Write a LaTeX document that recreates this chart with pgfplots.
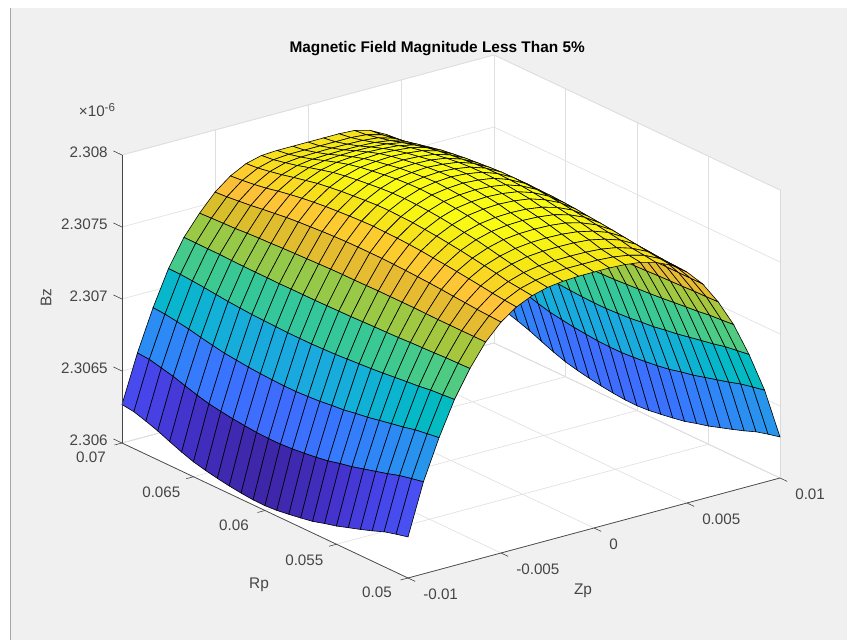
\documentclass[border=0pt]{standalone}
\usepackage{pgfplots}
\usepackage{fontspec}
\setmainfont{Liberation Sans}
\pgfplotsset{compat=1.18}
\definecolor{figbg}{gray}{0.94}
\definecolor{tickc}{gray}{0.27}
\pgfplotsset{colormap={parula}{rgb=(0.2422,0.1504,0.6603) rgb=(0.2647,0.1978,0.7952) rgb=(0.2783,0.2559,0.8991) rgb=(0.2810,0.3228,0.9579) rgb=(0.2699,0.3892,0.9906) rgb=(0.2206,0.4603,0.9973) rgb=(0.1786,0.5289,0.9682) rgb=(0.1540,0.5902,0.9218) rgb=(0.1248,0.6459,0.8883) rgb=(0.0689,0.6948,0.8394) rgb=(0.0067,0.7312,0.7660) rgb=(0.1408,0.7584,0.6842) rgb=(0.2161,0.7843,0.5923) rgb=(0.3406,0.8008,0.4789) rgb=(0.5044,0.7993,0.3480) rgb=(0.6720,0.7793,0.2227) rgb=(0.8203,0.7498,0.1535) rgb=(0.9393,0.7288,0.2100) rgb=(0.9970,0.7659,0.2199) rgb=(0.9786,0.8352,0.1428) rgb=(0.9597,0.9135,0.0805) rgb=(0.9769,0.9839,0.0805)}}
\begin{document}
\begin{tikzpicture}
\begin{scope}[x=0.5pt,y=-0.5pt]
\fill[white] (0,0) rectangle (847,640);
\fill[figbg] (11,8) rectangle (847,640);
\draw[gray!70,line width=0.5pt] (10.5,8)--(10.5,640);
\fill[white] (122,155)--(494,55)--(780,190)--(780,478)--(408,578)--(122,443)--cycle;
\node[text=tickc,font=\fontsize{7.6}{8}\selectfont] at (97,110) {×10\raisebox{2.6pt}{\fontsize{5.8}{6}\selectfont -6}};
\end{scope}
\begin{axis}[at={(61pt,-289pt)},anchor=south west,
 x={(9300pt,2500pt)},y={(-7150pt,3375pt)},z={(0pt,72pt)},
 xmin=-0.01,xmax=0.01,ymin=0.05,ymax=0.07,zmin=2306,zmax=2308,
 clip=false,grid=major,grid style={gray!25,line width=0.3pt},
 axis line style={gray!30,line width=0.3pt},3d box=background,
 scaled x ticks=false,scaled y ticks=false,scaled z ticks=false,
 xtick pos=lower,ytick pos=lower,ztick pos=right,zticklabel pos=left,
 tick align=outside,major tick length=4pt,tick style={tickc,line width=0.3pt},
 x tick style={draw=none},y tick style={draw=none},z tick style={draw=none},
 xtick={-0.01,-0.005,0,0.005,0.01},xticklabels={-0.01,-0.005,0,0.005,0.01},
 ytick={0.05,0.055,0.06,0.065,0.07},yticklabels={0.05,0.055,0.06,0.065,0.07},
 ztick={2306,2306.5,2307,2307.5,2308},zticklabels={2.306,2.3065,2.307,2.3075,2.308},
 ticklabel style={font=\fontsize{7.6}{8}\selectfont,text=tickc},
 xticklabel style={anchor=west,xshift=0.5pt,yshift=-6.5pt},
 yticklabel style={xshift=-5.25pt,yshift=2.25pt},
 zticklabel style={xshift=0pt,yshift=-1.5pt},
 title={\textbf{Magnetic Field Magnitude Less Than 5\%}},
 title style={at={(axis description cs:0.479,0.990)},anchor=center,font=\fontsize{7.7}{9}\selectfont},
 xlabel={Zp},ylabel={Rp},zlabel={Bz},
 xlabel style={at={(axis description cs:0.7006,-0.0249)},anchor=center,font=\fontsize{7.7}{9}\selectfont,text=tickc},
 ylabel style={at={(axis description cs:0.2082,-0.0125)},anchor=center,font=\fontsize{7.7}{9}\selectfont,text=tickc},
 zlabel style={at={(axis description cs:-0.1155,0.5354)},anchor=center,font=\fontsize{7.7}{9}\selectfont,text=tickc},
 colormap name=parula,point meta min=2306.033,point meta max=2307.874]
\addplot3[surf,shader=flat corner,draw=black,line width=0.3pt,z buffer=sort,mesh/ordering=y varies] table[x=x,y=y,z expr=\thisrow{z}*1000] {
x y z
-0.01 0.05 2.306285
-0.01 0.05083 2.306265
-0.01 0.05167 2.306243
-0.01 0.0525 2.30621
-0.01 0.05333 2.306182
-0.01 0.05417 2.306154
-0.01 0.055 2.306126
-0.01 0.05583 2.306105
-0.01 0.05667 2.306081
-0.01 0.0575 2.306065
-0.01 0.05833 2.306051
-0.01 0.05917 2.30604
-0.01 0.06 2.306033
-0.01 0.06083 2.306035
-0.01 0.06167 2.306042
-0.01 0.0625 2.306053
-0.01 0.06333 2.306067
-0.01 0.06417 2.306083
-0.01 0.065 2.306104
-0.01 0.06583 2.306133
-0.01 0.06667 2.306166
-0.01 0.0675 2.306201
-0.01 0.06833 2.30623
-0.01 0.06917 2.306256
-0.01 0.07 2.306267

-0.00917 0.05 2.306639
-0.00917 0.05083 2.306622
-0.00917 0.05167 2.306604
-0.00917 0.0525 2.306578
-0.00917 0.05333 2.306555
-0.00917 0.05417 2.306532
-0.00917 0.055 2.30651
-0.00917 0.05583 2.306492
-0.00917 0.05667 2.306472
-0.00917 0.0575 2.306458
-0.00917 0.05833 2.306447
-0.00917 0.05917 2.306438
-0.00917 0.06 2.306431
-0.00917 0.06083 2.306431
-0.00917 0.06167 2.306435
-0.00917 0.0625 2.306442
-0.00917 0.06333 2.306451
-0.00917 0.06417 2.306463
-0.00917 0.065 2.306478
-0.00917 0.06583 2.306499
-0.00917 0.06667 2.306524
-0.00917 0.0675 2.30655
-0.00917 0.06833 2.306571
-0.00917 0.06917 2.30659
-0.00917 0.07 2.306597

-0.00833 0.05 2.306917
-0.00833 0.05083 2.306905
-0.00833 0.05167 2.306892
-0.00833 0.0525 2.306873
-0.00833 0.05333 2.306857
-0.00833 0.05417 2.30684
-0.00833 0.055 2.306824
-0.00833 0.05583 2.306811
-0.00833 0.05667 2.306797
-0.00833 0.0575 2.306788
-0.00833 0.05833 2.306778
-0.00833 0.05917 2.306772
-0.00833 0.06 2.306767
-0.00833 0.06083 2.306767
-0.00833 0.06167 2.306771
-0.00833 0.0625 2.306775
-0.00833 0.06333 2.306781
-0.00833 0.06417 2.30679
-0.00833 0.065 2.3068
-0.00833 0.06583 2.306814
-0.00833 0.06667 2.306831
-0.00833 0.0675 2.306849
-0.00833 0.06833 2.306864
-0.00833 0.06917 2.306876
-0.00833 0.07 2.306882

-0.0075 0.05 2.307153
-0.0075 0.05083 2.307146
-0.0075 0.05167 2.307139
-0.0075 0.0525 2.307128
-0.0075 0.05333 2.307119
-0.0075 0.05417 2.30711
-0.0075 0.055 2.307102
-0.0075 0.05583 2.307094
-0.0075 0.05667 2.307087
-0.0075 0.0575 2.307081
-0.0075 0.05833 2.307076
-0.0075 0.05917 2.307072
-0.0075 0.06 2.307069
-0.0075 0.06083 2.307069
-0.0075 0.06167 2.30707
-0.0075 0.0625 2.307072
-0.0075 0.06333 2.307075
-0.0075 0.06417 2.307079
-0.0075 0.065 2.307084
-0.0075 0.06583 2.307091
-0.0075 0.06667 2.3071
-0.0075 0.0675 2.307109
-0.0075 0.06833 2.307116
-0.0075 0.06917 2.307123
-0.0075 0.07 2.307125

-0.00667 0.05 2.30734
-0.00667 0.05083 2.307337
-0.00667 0.05167 2.307335
-0.00667 0.0525 2.307331
-0.00667 0.05333 2.307327
-0.00667 0.05417 2.307324
-0.00667 0.055 2.30732
-0.00667 0.05583 2.307317
-0.00667 0.05667 2.307315
-0.00667 0.0575 2.307312
-0.00667 0.05833 2.307309
-0.00667 0.05917 2.307308
-0.00667 0.06 2.307306
-0.00667 0.06083 2.307304
-0.00667 0.06167 2.307304
-0.00667 0.0625 2.307304
-0.00667 0.06333 2.307303
-0.00667 0.06417 2.307305
-0.00667 0.065 2.307305
-0.00667 0.06583 2.307306
-0.00667 0.06667 2.307308
-0.00667 0.0675 2.30731
-0.00667 0.06833 2.307311
-0.00667 0.06917 2.307312
-0.00667 0.07 2.307312

-0.00583 0.05 2.307493
-0.00583 0.05083 2.307493
-0.00583 0.05167 2.307493
-0.00583 0.0525 2.307494
-0.00583 0.05333 2.307494
-0.00583 0.05417 2.307495
-0.00583 0.055 2.307496
-0.00583 0.05583 2.307496
-0.00583 0.05667 2.307496
-0.00583 0.0575 2.307496
-0.00583 0.05833 2.307495
-0.00583 0.05917 2.307494
-0.00583 0.06 2.307493
-0.00583 0.06083 2.307492
-0.00583 0.06167 2.307489
-0.00583 0.0625 2.307486
-0.00583 0.06333 2.307483
-0.00583 0.06417 2.30748
-0.00583 0.065 2.307476
-0.00583 0.06583 2.307472
-0.00583 0.06667 2.307467
-0.00583 0.0675 2.307462
-0.00583 0.06833 2.307458
-0.00583 0.06917 2.307455
-0.00583 0.07 2.307451

-0.005 0.05 2.307604
-0.005 0.05083 2.307608
-0.005 0.05167 2.307613
-0.005 0.0525 2.307621
-0.005 0.05333 2.307627
-0.005 0.05417 2.307634
-0.005 0.055 2.30764
-0.005 0.05583 2.307644
-0.005 0.05667 2.307649
-0.005 0.0575 2.307652
-0.005 0.05833 2.307655
-0.005 0.05917 2.307656
-0.005 0.06 2.307656
-0.005 0.06083 2.307654
-0.005 0.06167 2.307651
-0.005 0.0625 2.307646
-0.005 0.06333 2.30764
-0.005 0.06417 2.307634
-0.005 0.065 2.307626
-0.005 0.06583 2.307616
-0.005 0.06667 2.307605
-0.005 0.0675 2.307593
-0.005 0.06833 2.307583
-0.005 0.06917 2.307574
-0.005 0.07 2.307569

-0.00417 0.05 2.30768
-0.00417 0.05083 2.307687
-0.00417 0.05167 2.307696
-0.00417 0.0525 2.307708
-0.00417 0.05333 2.307719
-0.00417 0.05417 2.30773
-0.00417 0.055 2.30774
-0.00417 0.05583 2.307747
-0.00417 0.05667 2.307756
-0.00417 0.0575 2.307762
-0.00417 0.05833 2.307766
-0.00417 0.05917 2.307769
-0.00417 0.06 2.307771
-0.00417 0.06083 2.307769
-0.00417 0.06167 2.307764
-0.00417 0.0625 2.307758
-0.00417 0.06333 2.307751
-0.00417 0.06417 2.307742
-0.00417 0.065 2.307732
-0.00417 0.06583 2.307718
-0.00417 0.06667 2.307703
-0.00417 0.0675 2.307685
-0.00417 0.06833 2.307671
-0.00417 0.06917 2.30766
-0.00417 0.07 2.307653

-0.00333 0.05 2.307729
-0.00333 0.05083 2.307739
-0.00333 0.05167 2.307749
-0.00333 0.0525 2.307766
-0.00333 0.05333 2.30778
-0.00333 0.05417 2.307794
-0.00333 0.055 2.307808
-0.00333 0.05583 2.307818
-0.00333 0.05667 2.30783
-0.00333 0.0575 2.307837
-0.00333 0.05833 2.307844
-0.00333 0.05917 2.307848
-0.00333 0.06 2.307851
-0.00333 0.06083 2.307849
-0.00333 0.06167 2.307843
-0.00333 0.0625 2.307836
-0.00333 0.06333 2.307828
-0.00333 0.06417 2.307817
-0.00333 0.065 2.307805
-0.00333 0.06583 2.307787
-0.00333 0.06667 2.307769
-0.00333 0.0675 2.307748
-0.00333 0.06833 2.307731
-0.00333 0.06917 2.307716
-0.00333 0.07 2.307708

-0.0025 0.05 2.307757
-0.0025 0.05083 2.307769
-0.0025 0.05167 2.307782
-0.0025 0.0525 2.307802
-0.0025 0.05333 2.307819
-0.0025 0.05417 2.307837
-0.0025 0.055 2.307853
-0.0025 0.05583 2.307866
-0.0025 0.05667 2.30788
-0.0025 0.0575 2.30789
-0.0025 0.05833 2.307898
-0.0025 0.05917 2.307903
-0.0025 0.06 2.307906
-0.0025 0.06083 2.307904
-0.0025 0.06167 2.307898
-0.0025 0.0625 2.307889
-0.0025 0.06333 2.307879
-0.0025 0.06417 2.307867
-0.0025 0.065 2.307852
-0.0025 0.06583 2.307831
-0.0025 0.06667 2.307808
-0.0025 0.0675 2.307783
-0.0025 0.06833 2.307764
-0.0025 0.06917 2.307745
-0.0025 0.07 2.307736

-0.00167 0.05 2.307771
-0.00167 0.05083 2.307785
-0.00167 0.05167 2.3078
-0.00167 0.0525 2.307824
-0.00167 0.05333 2.307843
-0.00167 0.05417 2.307864
-0.00167 0.055 2.307883
-0.00167 0.05583 2.307897
-0.00167 0.05667 2.307914
-0.00167 0.0575 2.307926
-0.00167 0.05833 2.307934
-0.00167 0.05917 2.307941
-0.00167 0.06 2.307944
-0.00167 0.06083 2.307941
-0.00167 0.06167 2.307934
-0.00167 0.0625 2.307924
-0.00167 0.06333 2.307912
-0.00167 0.06417 2.307898
-0.00167 0.065 2.307879
-0.00167 0.06583 2.307855
-0.00167 0.06667 2.307828
-0.00167 0.0675 2.307799
-0.00167 0.06833 2.307775
-0.00167 0.06917 2.307754
-0.00167 0.07 2.307743

-0.00083 0.05 2.307778
-0.00083 0.05083 2.307792
-0.00083 0.05167 2.307808
-0.00083 0.0525 2.307834
-0.00083 0.05333 2.307855
-0.00083 0.05417 2.307876
-0.00083 0.055 2.307897
-0.00083 0.05583 2.307912
-0.00083 0.05667 2.30793
-0.00083 0.0575 2.307942
-0.00083 0.05833 2.307951
-0.00083 0.05917 2.307958
-0.00083 0.06 2.307962
-0.00083 0.06083 2.307958
-0.00083 0.06167 2.30795
-0.00083 0.0625 2.30794
-0.00083 0.06333 2.307926
-0.00083 0.06417 2.30791
-0.00083 0.065 2.307891
-0.00083 0.06583 2.307865
-0.00083 0.06667 2.307835
-0.00083 0.0675 2.307803
-0.00083 0.06833 2.307778
-0.00083 0.06917 2.307755
-0.00083 0.07 2.307743

0 0.05 2.307778
0 0.05083 2.307793
0 0.05167 2.30781
0 0.0525 2.307836
0 0.05333 2.307858
0 0.05417 2.30788
0 0.055 2.307901
0 0.05583 2.307917
0 0.05667 2.307936
0 0.0575 2.307948
0 0.05833 2.307958
0 0.05917 2.307965
0 0.06 2.307969
0 0.06083 2.307965
0 0.06167 2.307957
0 0.0625 2.307946
0 0.06333 2.307932
0 0.06417 2.307916
0 0.065 2.307896
0 0.06583 2.307869
0 0.06667 2.307838
0 0.0675 2.307805
0 0.06833 2.307779
0 0.06917 2.307755
0 0.07 2.307743

0.00083 0.05 2.307778
0.00083 0.05083 2.307792
0.00083 0.05167 2.307808
0.00083 0.0525 2.307834
0.00083 0.05333 2.307855
0.00083 0.05417 2.307876
0.00083 0.055 2.307897
0.00083 0.05583 2.307912
0.00083 0.05667 2.30793
0.00083 0.0575 2.307942
0.00083 0.05833 2.307951
0.00083 0.05917 2.307958
0.00083 0.06 2.307962
0.00083 0.06083 2.307958
0.00083 0.06167 2.30795
0.00083 0.0625 2.30794
0.00083 0.06333 2.307926
0.00083 0.06417 2.30791
0.00083 0.065 2.307891
0.00083 0.06583 2.307865
0.00083 0.06667 2.307835
0.00083 0.0675 2.307803
0.00083 0.06833 2.307778
0.00083 0.06917 2.307755
0.00083 0.07 2.307743

0.00167 0.05 2.307771
0.00167 0.05083 2.307785
0.00167 0.05167 2.3078
0.00167 0.0525 2.307824
0.00167 0.05333 2.307843
0.00167 0.05417 2.307864
0.00167 0.055 2.307883
0.00167 0.05583 2.307897
0.00167 0.05667 2.307914
0.00167 0.0575 2.307926
0.00167 0.05833 2.307934
0.00167 0.05917 2.307941
0.00167 0.06 2.307944
0.00167 0.06083 2.307941
0.00167 0.06167 2.307934
0.00167 0.0625 2.307924
0.00167 0.06333 2.307912
0.00167 0.06417 2.307898
0.00167 0.065 2.307879
0.00167 0.06583 2.307855
0.00167 0.06667 2.307828
0.00167 0.0675 2.307799
0.00167 0.06833 2.307775
0.00167 0.06917 2.307754
0.00167 0.07 2.307743

0.0025 0.05 2.307757
0.0025 0.05083 2.307769
0.0025 0.05167 2.307782
0.0025 0.0525 2.307802
0.0025 0.05333 2.307819
0.0025 0.05417 2.307837
0.0025 0.055 2.307853
0.0025 0.05583 2.307866
0.0025 0.05667 2.30788
0.0025 0.0575 2.30789
0.0025 0.05833 2.307898
0.0025 0.05917 2.307903
0.0025 0.06 2.307906
0.0025 0.06083 2.307904
0.0025 0.06167 2.307898
0.0025 0.0625 2.307889
0.0025 0.06333 2.307879
0.0025 0.06417 2.307867
0.0025 0.065 2.307852
0.0025 0.06583 2.307831
0.0025 0.06667 2.307808
0.0025 0.0675 2.307783
0.0025 0.06833 2.307764
0.0025 0.06917 2.307745
0.0025 0.07 2.307736

0.00333 0.05 2.307729
0.00333 0.05083 2.307739
0.00333 0.05167 2.307749
0.00333 0.0525 2.307766
0.00333 0.05333 2.30778
0.00333 0.05417 2.307794
0.00333 0.055 2.307808
0.00333 0.05583 2.307818
0.00333 0.05667 2.30783
0.00333 0.0575 2.307837
0.00333 0.05833 2.307844
0.00333 0.05917 2.307848
0.00333 0.06 2.307851
0.00333 0.06083 2.307849
0.00333 0.06167 2.307843
0.00333 0.0625 2.307836
0.00333 0.06333 2.307828
0.00333 0.06417 2.307817
0.00333 0.065 2.307805
0.00333 0.06583 2.307787
0.00333 0.06667 2.307769
0.00333 0.0675 2.307748
0.00333 0.06833 2.307731
0.00333 0.06917 2.307716
0.00333 0.07 2.307708

0.00417 0.05 2.30768
0.00417 0.05083 2.307687
0.00417 0.05167 2.307696
0.00417 0.0525 2.307708
0.00417 0.05333 2.307719
0.00417 0.05417 2.30773
0.00417 0.055 2.30774
0.00417 0.05583 2.307747
0.00417 0.05667 2.307756
0.00417 0.0575 2.307762
0.00417 0.05833 2.307766
0.00417 0.05917 2.307769
0.00417 0.06 2.307771
0.00417 0.06083 2.307769
0.00417 0.06167 2.307764
0.00417 0.0625 2.307758
0.00417 0.06333 2.307751
0.00417 0.06417 2.307742
0.00417 0.065 2.307732
0.00417 0.06583 2.307718
0.00417 0.06667 2.307703
0.00417 0.0675 2.307685
0.00417 0.06833 2.307671
0.00417 0.06917 2.30766
0.00417 0.07 2.307653

0.005 0.05 2.307604
0.005 0.05083 2.307608
0.005 0.05167 2.307613
0.005 0.0525 2.307621
0.005 0.05333 2.307627
0.005 0.05417 2.307634
0.005 0.055 2.30764
0.005 0.05583 2.307644
0.005 0.05667 2.307649
0.005 0.0575 2.307652
0.005 0.05833 2.307655
0.005 0.05917 2.307656
0.005 0.06 2.307656
0.005 0.06083 2.307654
0.005 0.06167 2.307651
0.005 0.0625 2.307646
0.005 0.06333 2.30764
0.005 0.06417 2.307634
0.005 0.065 2.307626
0.005 0.06583 2.307616
0.005 0.06667 2.307605
0.005 0.0675 2.307593
0.005 0.06833 2.307583
0.005 0.06917 2.307574
0.005 0.07 2.307569

0.00583 0.05 2.307493
0.00583 0.05083 2.307493
0.00583 0.05167 2.307493
0.00583 0.0525 2.307494
0.00583 0.05333 2.307494
0.00583 0.05417 2.307495
0.00583 0.055 2.307496
0.00583 0.05583 2.307496
0.00583 0.05667 2.307496
0.00583 0.0575 2.307496
0.00583 0.05833 2.307495
0.00583 0.05917 2.307494
0.00583 0.06 2.307493
0.00583 0.06083 2.307492
0.00583 0.06167 2.307489
0.00583 0.0625 2.307486
0.00583 0.06333 2.307483
0.00583 0.06417 2.30748
0.00583 0.065 2.307476
0.00583 0.06583 2.307472
0.00583 0.06667 2.307467
0.00583 0.0675 2.307462
0.00583 0.06833 2.307458
0.00583 0.06917 2.307455
0.00583 0.07 2.307451

0.00667 0.05 2.30734
0.00667 0.05083 2.307337
0.00667 0.05167 2.307335
0.00667 0.0525 2.307331
0.00667 0.05333 2.307327
0.00667 0.05417 2.307324
0.00667 0.055 2.30732
0.00667 0.05583 2.307317
0.00667 0.05667 2.307315
0.00667 0.0575 2.307312
0.00667 0.05833 2.307309
0.00667 0.05917 2.307308
0.00667 0.06 2.307306
0.00667 0.06083 2.307304
0.00667 0.06167 2.307304
0.00667 0.0625 2.307304
0.00667 0.06333 2.307303
0.00667 0.06417 2.307305
0.00667 0.065 2.307305
0.00667 0.06583 2.307306
0.00667 0.06667 2.307308
0.00667 0.0675 2.30731
0.00667 0.06833 2.307311
0.00667 0.06917 2.307312
0.00667 0.07 2.307312

0.0075 0.05 2.307153
0.0075 0.05083 2.307146
0.0075 0.05167 2.307139
0.0075 0.0525 2.307128
0.0075 0.05333 2.307119
0.0075 0.05417 2.30711
0.0075 0.055 2.307102
0.0075 0.05583 2.307094
0.0075 0.05667 2.307087
0.0075 0.0575 2.307081
0.0075 0.05833 2.307076
0.0075 0.05917 2.307072
0.0075 0.06 2.307069
0.0075 0.06083 2.307069
0.0075 0.06167 2.30707
0.0075 0.0625 2.307072
0.0075 0.06333 2.307075
0.0075 0.06417 2.307079
0.0075 0.065 2.307084
0.0075 0.06583 2.307091
0.0075 0.06667 2.3071
0.0075 0.0675 2.307109
0.0075 0.06833 2.307116
0.0075 0.06917 2.307123
0.0075 0.07 2.307125

0.00833 0.05 2.306917
0.00833 0.05083 2.306905
0.00833 0.05167 2.306892
0.00833 0.0525 2.306873
0.00833 0.05333 2.306857
0.00833 0.05417 2.30684
0.00833 0.055 2.306824
0.00833 0.05583 2.306811
0.00833 0.05667 2.306797
0.00833 0.0575 2.306788
0.00833 0.05833 2.306778
0.00833 0.05917 2.306772
0.00833 0.06 2.306767
0.00833 0.06083 2.306767
0.00833 0.06167 2.306771
0.00833 0.0625 2.306775
0.00833 0.06333 2.306781
0.00833 0.06417 2.30679
0.00833 0.065 2.3068
0.00833 0.06583 2.306814
0.00833 0.06667 2.306831
0.00833 0.0675 2.306849
0.00833 0.06833 2.306864
0.00833 0.06917 2.306876
0.00833 0.07 2.306882

0.00917 0.05 2.306639
0.00917 0.05083 2.306622
0.00917 0.05167 2.306604
0.00917 0.0525 2.306578
0.00917 0.05333 2.306555
0.00917 0.05417 2.306532
0.00917 0.055 2.30651
0.00917 0.05583 2.306492
0.00917 0.05667 2.306472
0.00917 0.0575 2.306458
0.00917 0.05833 2.306447
0.00917 0.05917 2.306438
0.00917 0.06 2.306431
0.00917 0.06083 2.306431
0.00917 0.06167 2.306435
0.00917 0.0625 2.306442
0.00917 0.06333 2.306451
0.00917 0.06417 2.306463
0.00917 0.065 2.306478
0.00917 0.06583 2.306499
0.00917 0.06667 2.306524
0.00917 0.0675 2.30655
0.00917 0.06833 2.306571
0.00917 0.06917 2.30659
0.00917 0.07 2.306597

0.01 0.05 2.306285
0.01 0.05083 2.306265
0.01 0.05167 2.306243
0.01 0.0525 2.30621
0.01 0.05333 2.306182
0.01 0.05417 2.306154
0.01 0.055 2.306126
0.01 0.05583 2.306105
0.01 0.05667 2.306081
0.01 0.0575 2.306065
0.01 0.05833 2.306051
0.01 0.05917 2.30604
0.01 0.06 2.306033
0.01 0.06083 2.306035
0.01 0.06167 2.306042
0.01 0.0625 2.306053
0.01 0.06333 2.306067
0.01 0.06417 2.306083
0.01 0.065 2.306104
0.01 0.06583 2.306133
0.01 0.06667 2.306166
0.01 0.0675 2.306201
0.01 0.06833 2.30623
0.01 0.06917 2.306256
0.01 0.07 2.306267
};
\draw[tickc,line width=0.35pt] (axis cs:-0.01,0.05,2306)--(axis cs:0.01,0.05,2306);
\draw[tickc,line width=0.35pt] (axis cs:-0.01,0.05,2306)--(axis cs:-0.01,0.07,2306);
\draw[tickc,line width=0.35pt] (axis cs:-0.01,0.07,2306)--(axis cs:-0.01,0.07,2308);
\draw[tickc,line width=0.3pt] (axis cs:-0.01,0.07,2306)--(axis cs:-0.01,0.0706,2306);
\draw[tickc,line width=0.3pt] (axis cs:-0.01,0.07,2306.5)--(axis cs:-0.01,0.0706,2306.5);
\draw[tickc,line width=0.3pt] (axis cs:-0.01,0.07,2307)--(axis cs:-0.01,0.0706,2307);
\draw[tickc,line width=0.3pt] (axis cs:-0.01,0.07,2307.5)--(axis cs:-0.01,0.0706,2307.5);
\draw[tickc,line width=0.3pt] (axis cs:-0.01,0.07,2308)--(axis cs:-0.01,0.0706,2308);
\draw[tickc,line width=0.3pt] (axis cs:-0.01,0.05,2306)--(axis cs:-0.0104,0.05,2306);
\draw[tickc,line width=0.3pt] (axis cs:-0.01,0.055,2306)--(axis cs:-0.0104,0.055,2306);
\draw[tickc,line width=0.3pt] (axis cs:-0.01,0.06,2306)--(axis cs:-0.0104,0.06,2306);
\draw[tickc,line width=0.3pt] (axis cs:-0.01,0.065,2306)--(axis cs:-0.0104,0.065,2306);
\draw[tickc,line width=0.3pt] (axis cs:-0.01,0.07,2306)--(axis cs:-0.0104,0.07,2306);
\draw[tickc,line width=0.3pt] (axis cs:-0.01,0.05,2306)--(axis cs:-0.01,0.0495,2306);
\draw[tickc,line width=0.3pt] (axis cs:-0.005,0.05,2306)--(axis cs:-0.005,0.0495,2306);
\draw[tickc,line width=0.3pt] (axis cs:0,0.05,2306)--(axis cs:0,0.0495,2306);
\draw[tickc,line width=0.3pt] (axis cs:0.005,0.05,2306)--(axis cs:0.005,0.0495,2306);
\draw[tickc,line width=0.3pt] (axis cs:0.01,0.05,2306)--(axis cs:0.01,0.0495,2306);
\end{axis}
\end{tikzpicture}
\end{document}
